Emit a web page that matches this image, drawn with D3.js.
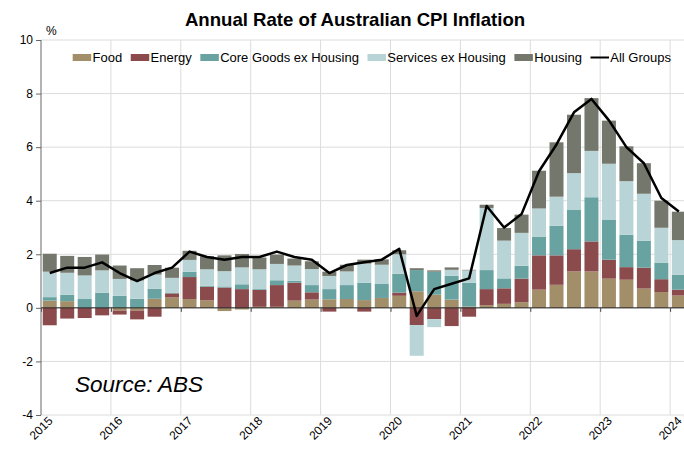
<!DOCTYPE html>
<html>
<head>
<meta charset="utf-8">
<script src="https://cdn.jsdelivr.net/npm/d3@7"></script>
<style>
  html, body { margin: 0; padding: 0; background: #fff; }
  svg { display: block; font-family: "Liberation Sans", Arial, sans-serif; }
</style>
</head>
<body>
<svg id="chart" width="684" height="450"></svg>
<script>
// ---------- DATA ----------
const quarters = [
  "2015Q1","2015Q2","2015Q3","2015Q4",
  "2016Q1","2016Q2","2016Q3","2016Q4",
  "2017Q1","2017Q2","2017Q3","2017Q4",
  "2018Q1","2018Q2","2018Q3","2018Q4",
  "2019Q1","2019Q2","2019Q3","2019Q4",
  "2020Q1","2020Q2","2020Q3","2020Q4",
  "2021Q1","2021Q2","2021Q3","2021Q4",
  "2022Q1","2022Q2","2022Q3","2022Q4",
  "2023Q1","2023Q2","2023Q3","2023Q4",
  "2024Q1"
];
const food = [0.27,0.25,0.00,0.00, -0.10,-0.10,0.34,0.39, 0.33,0.28,-0.12,-0.06,
  0.04,0.04,0.27,0.31, 0.32,0.33,0.29,0.37, 0.45,0.62,0.49,0.31,
  0.05,0.10,0.15,0.21, 0.68,0.86,1.36,1.36, 1.09,1.05,0.72,0.59, 0.46];
const energy = [-0.65,-0.40,-0.38,-0.28, -0.15,-0.33,-0.33,0.15, 0.82,0.51,0.76,0.70,
  0.63,0.81,0.67,0.27, -0.14,0.00,-0.14,0.00, 0.12,-0.64,-0.42,-0.68,
  -0.33,0.60,0.58,0.88, 1.28,1.10,0.83,1.12, 0.71,0.47,0.78,0.48, 0.22];
const coreGoods = [0.13,0.24,0.33,0.56, 0.45,0.34,0.37,0.03, 0.20,0.03,0.04,0.18,
  0.03,0.18,0.07,0.27, 0.38,0.52,0.65,0.52, 0.70,0.79,0.86,0.89,
  0.89,0.71,0.37,0.48, 0.70,1.11,1.48,1.65, 1.48,1.21,1.00,0.62, 0.56];
const services = [0.95,0.82,0.88,0.84, 0.63,0.68,0.53,0.55, 0.44,0.62,0.57,0.63,
  0.74,0.61,0.57,0.60, 0.49,0.51,0.71,0.72, 0.73,-1.15,-0.30,0.22,
  0.46,2.32,1.41,1.23, 1.05,1.08,1.36,1.73, 2.10,2.00,1.76,1.30, 1.29];
const housing = [0.67,0.63,0.69,0.59, 0.50,0.46,0.36,0.38, 0.34,0.49,0.59,0.50,
  0.44,0.35,0.26,0.29, 0.16,0.25,0.15,0.20, 0.15,0.07,0.05,0.09,
  0.02,0.12,0.47,0.68, 1.41,2.03,2.18,1.97, 1.61,1.30,1.14,1.01, 1.06];
const allGroups = [1.3,1.5,1.5,1.7, 1.3,1.0,1.3,1.5, 2.1,1.9,1.8,1.9,
  1.9,2.1,1.9,1.8, 1.3,1.6,1.7,1.8, 2.2,-0.3,0.7,0.9,
  1.1,3.8,3.0,3.5, 5.1,6.1,7.3,7.8, 7.0,6.0,5.4,4.1, 3.6];

const seriesNames = ["Food","Energy","Core Goods ex Housing","Services ex Housing","Housing"];
const seriesKeys = ["food","energy","coreGoods","services","housing"];
const seriesColors = ["#a28f69","#8b4b4c","#68a3a2","#b9d4d6","#74776b"];
const lineName = "All Groups";
const yTicks = [-4,-2,0,2,4,6,8,10];
const yearTicks = [2015,2016,2017,2018,2019,2020,2021,2022,2023,2024];
const titleText = "Annual Rate of Australian CPI Inflation";
const sourceText = "Source: ABS";

// ---------- BUILD ----------
(function () {
const rows = quarters.map((q, i) => ({
  q, food: food[i], energy: energy[i], coreGoods: coreGoods[i],
  services: services[i], housing: housing[i], all: allGroups[i]
}));

const svg = d3.select("#chart");
const pLeft = 41, pTop = 40, pBottom = 415;
const step = 17.475;
const pRight = pLeft + quarters.length * step;

const x = d3.scaleBand().domain(quarters).range([pLeft, pRight])
  .paddingInner(0.2).paddingOuter(0.1);
const xYear = d3.scaleLinear().domain([2015, 2015 + quarters.length / 4]).range([pLeft, pRight]);
const y = d3.scaleLinear().domain([-4, 10]).range([pBottom, pTop]);

// gridlines
const grid = svg.append("g");
grid.selectAll("line.h").data(yTicks).join("line").attr("class", "h")
  .attr("x1", pLeft).attr("x2", 684)
  .attr("y1", d => y(d)).attr("y2", d => y(d))
  .attr("stroke", "#dcdcdc").attr("stroke-width", 1);
grid.selectAll("line.v").data(yearTicks.slice(1)).join("line").attr("class", "v")
  .attr("x1", d => xYear(d)).attr("x2", d => xYear(d))
  .attr("y1", pTop).attr("y2", pBottom)
  .attr("stroke", "#dcdcdc").attr("stroke-width", 1);

// stacked bars
const stack = d3.stack().keys(seriesKeys).offset(d3.stackOffsetDiverging);
const stacked = stack(rows);
const barG = svg.append("g");
stacked.forEach((s, si) => {
  barG.append("g").attr("fill", seriesColors[si])
    .selectAll("rect").data(s).join("rect")
    .attr("x", d => x(d.data.q))
    .attr("width", x.bandwidth())
    .attr("y", d => y(Math.max(d[0], d[1])))
    .attr("height", d => Math.abs(y(d[0]) - y(d[1])));
});

// zero axis
const xAxis = d3.axisBottom(xYear).tickValues(yearTicks).tickSize(4).tickFormat("");
const zeroG = svg.append("g").attr("transform", `translate(0,${y(0)})`).call(xAxis);
zeroG.select(".domain").attr("stroke", "#222").attr("d", `M${pLeft},0H684`);
zeroG.selectAll(".tick line").attr("stroke", "#444");

// bottom year labels
svg.append("g").selectAll("text").data(yearTicks).join("text")
  .attr("transform", d => `translate(${xYear(d)},${428}) rotate(-45)`)
  .attr("text-anchor", "middle").attr("dy", "0.35em")
  .attr("font-size", 12).attr("fill", "#000")
  .text(d => d);

// y axis
const yAxis = d3.axisLeft(y).tickValues(yTicks).tickSize(5).tickPadding(3)
  .tickFormat(d => String(d));
const yG = svg.append("g").attr("transform", `translate(${pLeft},0)`).call(yAxis);
yG.select(".domain").attr("stroke", "#666").attr("d", `M0,${pTop}V${pBottom}`);
yG.selectAll(".tick line").attr("stroke", "#666");
yG.selectAll(".tick text").attr("font-size", 12).attr("fill", "#000")
  .attr("font-family", "Liberation Sans, Arial, sans-serif");

// line
const line = d3.line().x(d => x(d.q) + x.bandwidth() / 2).y(d => y(d.all));
svg.append("path").datum(rows).attr("d", line)
  .attr("fill", "none").attr("stroke", "#000").attr("stroke-width", 2.5)
  .attr("stroke-linejoin", "round");

// title
svg.append("text").attr("x", 355).attr("y", 26)
  .attr("text-anchor", "middle").attr("font-size", 18.6).attr("font-weight", "bold")
  .text(titleText);
svg.append("text").attr("x", 46).attr("y", 35).attr("font-size", 12).text("%");

// legend
const leg = svg.append("g");
let lx = 72.7;
const legItems = seriesNames.map((n, i) => ({ name: n, color: seriesColors[i], type: "rect" }))
  .concat([{ name: lineName, color: "#000", type: "line" }]);
legItems.forEach(it => {
  if (it.type === "rect") {
    leg.append("rect").attr("x", lx).attr("y", 54).attr("width", 18.5).attr("height", 7).attr("fill", it.color);
  } else {
    leg.append("line").attr("x1", lx).attr("x2", lx + 18.5).attr("y1", 57.5).attr("y2", 57.5)
      .attr("stroke", it.color).attr("stroke-width", 2);
  }
  const t = leg.append("text").attr("x", lx + 19.8).attr("y", 62).attr("font-size", 13).text(it.name);
  lx = lx + 19.8 + t.node().getComputedTextLength() + 8.6;
});

// source
svg.append("text").attr("x", 75).attr("y", 392)
  .attr("font-size", 22.5).attr("font-style", "italic").text(sourceText);
})();
</script>
</body>
</html>
